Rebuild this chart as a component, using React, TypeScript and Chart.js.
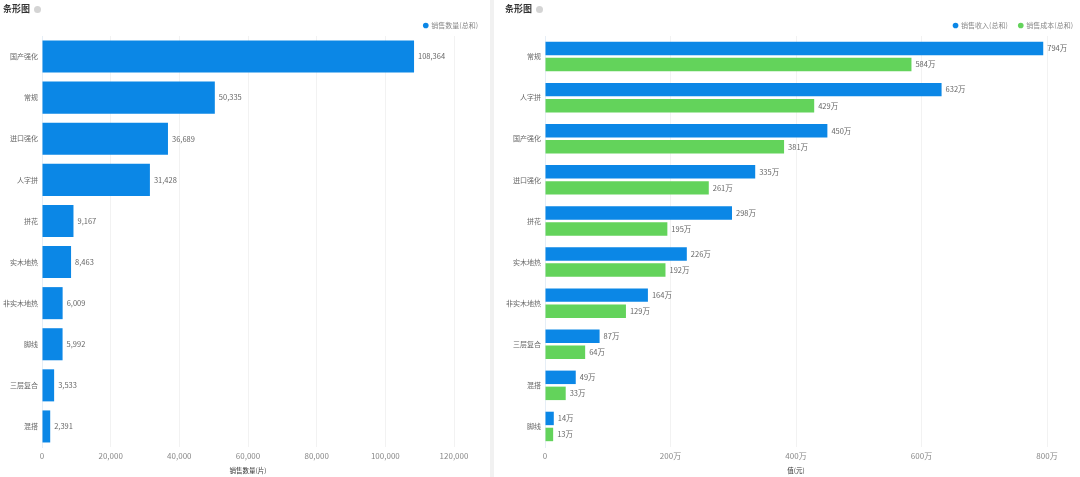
import React, { useEffect, useRef } from "react";
import { Chart, registerables } from "chart.js";

Chart.register(...registerables);

const leftCategories = ["国产强化", "常规", "进口强化", "人字拼", "拼花", "实木地热", "非实木地热", "脚线", "三层复合", "混搭"];
const leftValues = [108364, 50335, 36689, 31428, 9167, 8463, 6009, 5992, 3533, 2391];
const leftTicks = [0, 20000, 40000, 60000, 80000, 100000, 120000];

const rightCategories = ["常规", "人字拼", "国产强化", "进口强化", "拼花", "实木地热", "非实木地热", "三层复合", "混搭", "脚线"];
const revenueWan = [794, 632, 450, 335, 298, 226, 164, 87, 49, 14];
const costWan = [584, 429, 381, 261, 195, 192, 129, 64, 33, 13];
const rightTicks = [0, 200, 400, 600, 800];

const BLUE = "#0b87e6";
const GREEN = "#63d35b";
const FONT = "'Noto Sans CJK SC', 'Noto Sans', sans-serif";

function valueLabelPlugin(fmt: (v: number) => string) {
  return {
    id: "valueLabels",
    afterDatasetsDraw(chart: any) {
      const ctx = chart.ctx;
      ctx.save();
      ctx.font = `7.5px ${FONT}`;
      ctx.fillStyle = "#666";
      ctx.textBaseline = "middle";
      ctx.textAlign = "left";
      chart.data.datasets.forEach((ds: any, i: number) => {
        const meta = chart.getDatasetMeta(i);
        meta.data.forEach((el: any, j: number) => {
          ctx.fillText(fmt(ds.data[j]), el.x + 4, el.y);
        });
      });
      ctx.restore();
    },
  };
}

const legendFitPlugin = {
  id: "legendFit",
  beforeInit(chart: any) {
    const lg = chart.legend;
    if (!lg) return;
    const orig = lg.fit;
    lg.fit = function () {
      orig.call(this);
      this.height = 25;
    };
  },
};

function makeOptions(
  yWidth: number,
  max: number,
  ticksList: number[],
  tickFmt: (v: number) => string,
  title: string,
  rightPad: number,
  canvasRightPad: number
): any {
  return {
    indexAxis: "y",
    animation: false,
    responsive: false,
    maintainAspectRatio: false,
    layout: { padding: { left: 0, right: canvasRightPad, top: 11, bottom: 0 } },
    plugins: {
      legend: {
        display: true,
        position: "top",
        align: "end",
        labels: {
          usePointStyle: true,
          pointStyle: "circle",
          boxWidth: 4,
          boxHeight: 4,
          padding: 11,
          color: "#888",
          font: { size: 7, family: FONT },
        },
      },
      tooltip: { enabled: false },
    },
    scales: {
      x: {
        min: 0,
        max,
        afterFit(scale: any) {
          scale.height = 30;
        },
        afterBuildTicks(scale: any) {
          scale.ticks = ticksList.map((v) => ({ value: v }));
        },
        ticks: {
          padding: 4,
          color: "#888",
          font: { size: 8, family: FONT },
          maxRotation: 0,
          callback: (v: any) => tickFmt(Number(v)),
        },
        grid: { color: "#f2f2f2", drawTicks: false },
        border: { display: false },
        title: {
          display: true,
          text: title,
          color: "#333",
          font: { size: 6.5, family: FONT },
          padding: { top: 0, bottom: 3 },
        },
      },
      y: {
        afterFit(scale: any) {
          scale.width = yWidth;
        },
        ticks: {
          padding: 4,
          color: "#666",
          font: { size: 7, family: FONT },
        },
        grid: { display: false, drawTicks: false, tickLength: 0 },
        border: { display: true, color: "#e6eef6" },
      },
      yPad: {
        type: "category",
        position: "right",
        afterFit(scale: any) {
          scale.width = rightPad;
        },
        ticks: { display: false },
        grid: { display: false },
        border: { display: false },
      },
    },
  };
}

function Title({ left }: { left: number }) {
  return (
    <div
      style={{
        position: "absolute",
        left,
        top: 2,
        display: "flex",
        alignItems: "center",
        fontFamily: FONT,
        fontSize: 9,
        fontWeight: 600,
        color: "#333",
        lineHeight: "14px",
      }}
    >
      <span>条形图</span>
      <span
        style={{
          display: "inline-block",
          width: 7,
          height: 7,
          borderRadius: "50%",
          background: "#d4d4d4",
          marginLeft: 4,
        }}
      />
    </div>
  );
}

export default function App() {
  const leftRef = useRef<HTMLCanvasElement>(null);
  const rightRef = useRef<HTMLCanvasElement>(null);

  useEffect(() => {
    const left = new Chart(leftRef.current as HTMLCanvasElement, {
      type: "bar",
      data: {
        labels: leftCategories,
        datasets: [
          {
            label: "销售数量(总和)",
            data: leftValues,
            backgroundColor: BLUE,
            barPercentage: 0.78,
            categoryPercentage: 1,
          },
        ],
      },
      options: makeOptions(42, 120000, leftTicks, (v) => v.toLocaleString("en-US"), "销售数量(片)", 35, 1),
      plugins: [legendFitPlugin, valueLabelPlugin((v) => v.toLocaleString("en-US"))],
    });
    const right = new Chart(rightRef.current as HTMLCanvasElement, {
      type: "bar",
      data: {
        labels: rightCategories,
        datasets: [
          {
            label: "销售收入(总和)",
            data: revenueWan,
            backgroundColor: BLUE,
            barPercentage: 0.84,
            categoryPercentage: 0.78,
          },
          {
            label: "销售成本(总和)",
            data: costWan,
            backgroundColor: GREEN,
            barPercentage: 0.84,
            categoryPercentage: 0.78,
          },
        ],
      },
      options: makeOptions(50, 800, rightTicks, (v) => (v === 0 ? "0" : `${v}万`), "值(元)", 37, -4),
      plugins: [legendFitPlugin, valueLabelPlugin((v) => `${v}万`)],
    });
    return () => {
      left.destroy();
      right.destroy();
    };
  }, []);

  return (
    <div
      style={{
        position: "absolute",
        left: 0,
        top: 0,
        width: 1080,
        height: 477,
        background: "#fff",
        overflow: "hidden",
      }}
    >
      <canvas ref={leftRef} width={490} height={477} style={{ position: "absolute", left: 0, top: 0 }} />
      <div style={{ position: "absolute", left: 490, top: 0, width: 4, height: 477, background: "#f1f1f1" }} />
      <canvas ref={rightRef} width={585} height={477} style={{ position: "absolute", left: 495, top: 0 }} />
      <Title left={3} />
      <Title left={505} />
    </div>
  );
}
